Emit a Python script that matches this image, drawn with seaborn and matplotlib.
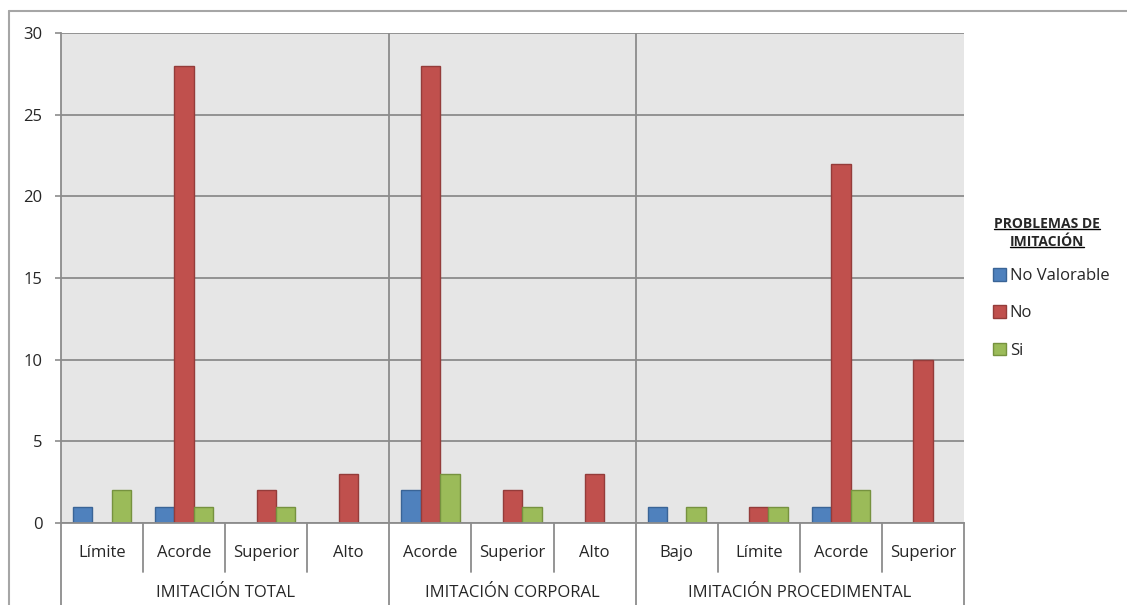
import pandas as pd
import matplotlib.pyplot as plt
import seaborn as sns
from matplotlib.lines import Line2D
from matplotlib.patches import Patch
from matplotlib.colors import to_hex

sns.set_style("white")
plt.rcParams['font.family'] = ['Open Sans', 'DejaVu Sans']

# --------------------------
# Data
# --------------------------
groups = ["IMITACIÓN TOTAL", "IMITACIÓN CORPORAL", "IMITACIÓN PROCEDIMENTAL"]
group_sizes = [4, 3, 4]
levels = ["Límite", "Acorde", "Superior", "Alto",
          "Acorde", "Superior", "Alto",
          "Bajo", "Límite", "Acorde", "Superior"]
series = ["No Valorable", "No", "Si"]
no_valorable = [1, 1, 0, 0, 2, 0, 0, 1, 0, 1, 0]
no = [0, 28, 2, 3, 28, 2, 3, 0, 1, 22, 10]
si = [2, 1, 1, 0, 3, 1, 0, 1, 1, 2, 0]

colors = ["#4F81BD", "#C0504D", "#9BBB59"]
edges = ["#3A6496", "#943C3A", "#76923F"]
line_col = "#8C8C8C"

# long table, zero bars are simply not drawn (like excel)
rows = []
for i in range(len(levels)):
    for s, vals in zip(series, [no_valorable, no, si]):
        if vals[i] > 0:
            rows.append({"slot": str(i), "serie": s, "valor": vals[i]})
df = pd.DataFrame(rows)
order = [str(i) for i in range(len(levels))]

# --------------------------
# Plot
# --------------------------
W, H = 1127, 605
fig = plt.figure(figsize=(W / 100, H / 100), dpi=100)
ax = fig.add_axes([61 / W, 1 - 523 / H, (964 - 61) / W, (523 - 33) / H])

sns.barplot(data=df, x="slot", y="valor", hue="serie", order=order,
            hue_order=series, palette=colors, width=0.71, gap=0,
            saturation=1, linewidth=1, errorbar=None, legend=False, ax=ax)

# darker outline of the same hue, matched through the fill colour
edge_map = {c.lower(): e for c, e in zip(colors, edges)}
for bar in ax.patches:
    fc = to_hex(bar.get_facecolor()).lower()
    if fc in edge_map:
        bar.set_edgecolor(edge_map[fc])
        bar.set_linewidth(1)

ax.set_facecolor("#E6E6E6")
ax.set_axisbelow(True)
ax.set_ylim(0, 30)
ax.set_xlim(-0.5, len(levels) - 0.5)
ax.set_yticks(range(0, 31, 5))
ax.yaxis.grid(True, color=line_col, lw=1.3)
ax.set_xticks([])
ax.set_xlabel("")
ax.set_ylabel("")
ax.tick_params(axis="y", length=4.3, width=1.2, color=line_col, pad=9,
               labelsize=12, left=True)
for side in ["top", "right"]:
    ax.spines[side].set_visible(False)
for side in ["left", "bottom"]:
    ax.spines[side].set_color(line_col)
    ax.spines[side].set_linewidth(1.3)

# group separators inside the plot
bounds = [-0.5]
for n in group_sizes:
    bounds.append(bounds[-1] + n)
for b in bounds[1:-1]:
    ax.axvline(b, color=line_col, lw=1.3)

# multi level category axis
trans = ax.get_xaxis_transform()
for k in range(len(levels) + 1):
    b = k - 0.5
    low = -0.167 if b in bounds else -0.1
    ax.plot([b, b], [0, low], transform=trans, color=line_col, lw=1.3,
            clip_on=False)
for i, lab in enumerate(levels):
    ax.text(i, -0.061, lab, transform=trans, ha="center", va="center",
            fontsize=12)
for g, start, n in zip(groups, bounds[:-1], group_sizes):
    ax.text(start + n / 2, -0.143, g, transform=trans, ha="center",
            va="center", fontsize=12)

# outer chart frame
fig.add_artist(Line2D([9 / W, 9 / W], [0, 1 - 11 / H], transform=fig.transFigure,
                      color="#A6A6A6", lw=1.5))
fig.add_artist(Line2D([9 / W, 1], [1 - 11 / H, 1 - 11 / H], transform=fig.transFigure,
                      color="#A6A6A6", lw=1.5))

# legend
handles = [Patch(facecolor=c, edgecolor=e, lw=1) for c, e in zip(colors, edges)]
fig.legend(handles, series, loc="upper left",
           bbox_to_anchor=(993 / W, 1 - 268 / H), frameon=False, fontsize=12,
           handlelength=0.8, handleheight=0.8, handletextpad=0.2,
           labelspacing=1.27, borderpad=0, borderaxespad=0)

titles = []
for txt, y in [("PROBLEMAS DE", 224), ("IMITACIÓN", 242)]:
    titles.append(fig.text(1047 / W, 1 - y / H, txt, ha="center", va="center",
                           fontsize=10, weight="bold"))
fig.canvas.draw()
renderer = fig.canvas.get_renderer()
for t in titles:
    bb = t.get_window_extent(renderer)
    yl = (bb.y0 + 2) / H
    fig.add_artist(Line2D([bb.x0 / W, bb.x1 / W], [yl, yl],
                          transform=fig.transFigure, color="black", lw=1))

fig.savefig("out.png", dpi=100)
